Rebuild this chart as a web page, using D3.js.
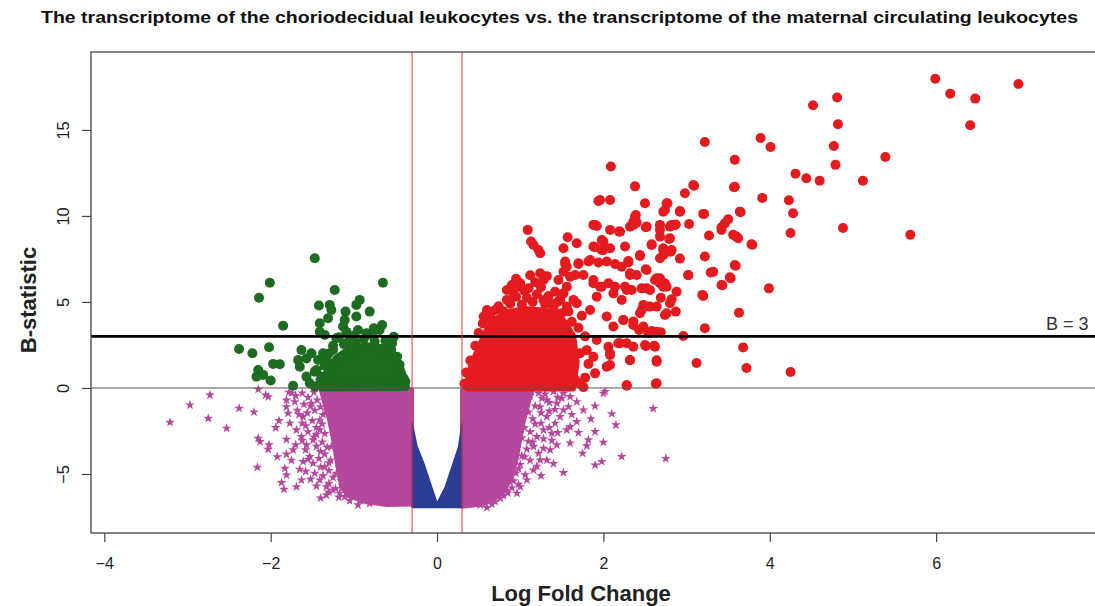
<!DOCTYPE html>
<html><head><meta charset="utf-8">
<script src="https://cdn.jsdelivr.net/npm/d3@7/dist/d3.min.js"></script>
<style>
body{margin:0;background:#fff}
svg{display:block}
text{font-family:"Liberation Sans",Arial,Helvetica,sans-serif}
</style>
</head><body>
<svg id="chart" width="1095" height="606"></svg>
<script>
// ---------- data ----------
const titleText = "The transcriptome of the choriodecidual leukocytes vs. the transcriptome of the maternal circulating leukocytes";
const xLabel = "Log Fold Change";
const yLabel = "B-statistic";
const xTicks = [-4, -2, 0, 2, 4, 6];
const yTicks = [-5, 0, 5, 10, 15];
const fcCutoffs = [-0.3, 0.3];
const bCutoff = 3;
const bCutoffLabel = "B = 3";

// significant up-regulated genes (red)
const redPoints = [
[5.99,17.97],[6.99,17.67],[6.17,17.11],[6.47,16.82],[6.41,15.27],[4.81,16.88],[4.52,16.43],[4.82,15.33],[4.77,14.07],[4.79,12.97],[5.39,13.43],[3.89,14.53],[4.01,14.01],[3.22,14.30],[3.58,13.26],[4.31,12.46],[4.44,12.19],[4.60,12.05],[5.12,12.05],[2.09,12.87],[2.38,11.72],[3.09,11.76],[2.98,11.32],[3.57,11.67],[3.91,11.05],[4.23,10.91],[4.28,10.16],[4.25,9.01],[4.88,9.30],[5.69,8.91],[3.65,10.21],[3.21,10.12],[3.50,9.81],[3.46,9.57],[3.42,9.19],[3.56,8.90],[3.62,8.70],[3.79,8.33],[3.27,8.86],[3.22,7.64],[3.29,6.71],[3.59,7.11],[3.53,6.38],[3.43,5.97],[3.99,5.79],[3.02,6.55],[3.20,5.35],[3.63,4.38],[3.22,3.47],[2.96,3.02],[3.68,2.36],[3.12,1.45],[3.72,1.16],[4.25,0.93],[2.28,0.13],[2.63,0.25],[2.32,1.61],[2.64,1.61],[2.08,1.92],[2.08,1.34],[2.51,2.44],[2.61,2.46],[2.69,3.24],[2.58,3.31],[2.92,10.29],[3.03,9.53],[2.87,9.50],[2.76,10.74],[2.72,10.25],[2.50,10.74],[2.39,10.06],[2.36,9.67],[2.52,9.38],[2.68,9.48],[2.82,9.48],[2.79,8.66],[2.58,8.35],[2.92,7.52],[2.81,7.92],[2.72,8.02],[2.68,7.54],[2.51,6.90],[2.44,7.73],[2.30,7.38],[2.26,8.22],[2.88,5.60],[2.82,5.16],[2.87,4.44],[2.69,5.25],[2.64,4.73],[2.74,4.24],[2.68,6.38],[2.62,6.28],[2.74,6.09],[2.56,5.70],[2.46,5.79],[2.34,5.70],[2.32,6.67],[2.48,4.83],[2.56,4.73],[2.46,4.53],[2.36,3.86],[2.43,3.37],[2.24,3.95],[2.18,2.60],[2.28,2.60],[2.36,9.48],[2.20,9.09],[2.08,10.93],[1.96,10.93],
[1.94,10.87],[1.88,9.48],[1.92,9.42],[2.08,9.19],[2.19,9.09],[1.57,8.76],[1.68,8.41],[1.52,8.12],[1.90,8.18],[1.98,8.60],[2.00,8.02],[2.08,8.12],[1.70,7.21],[1.84,7.44],[1.94,7.29],[2.04,7.35],[2.14,7.21],[2.22,7.05],[2.30,7.29],[1.54,7.21],[1.52,6.76],[1.66,6.57],[1.76,6.57],[1.56,5.89],[1.88,6.09],[1.98,5.89],[2.06,6.09],[2.14,5.89],[2.26,5.89],[2.32,6.57],[2.40,6.57],[2.52,6.86],[2.52,5.79],[2.64,6.38],[2.72,5.89],[2.51,9.34],[2.58,8.31],[2.44,7.67],[2.32,9.38],[2.38,9.96],[2.40,9.61],[2.68,9.19],[2.80,9.38],[2.86,9.48],[2.74,10.35],[2.77,10.74],[2.92,10.25],[3.08,11.80],[3.20,10.12],[3.32,6.76],[3.42,5.99],[3.52,6.43],[3.58,7.15],[3.60,8.80],[3.64,10.25],[3.58,11.70],[3.42,9.34],[3.78,8.35],[3.02,6.57],[3.19,5.41],[2.76,5.89],[2.68,6.09],[2.72,7.73],[2.72,8.12],[2.82,8.02],[2.80,8.70],[2.68,8.80],
[1.09,9.19],[1.13,8.51],[1.16,8.31],[1.22,8.02],[1.24,7.83],[1.54,7.35],[1.56,7.05],[1.70,7.25],[1.82,7.35],[1.90,9.48],[1.88,8.22],[2.00,8.51],[1.98,8.02],[1.24,6.67],[1.28,6.28],[1.46,6.28],[1.60,6.47],[1.00,5.89],[0.92,5.50],[0.84,5.12],[0.70,4.53],[0.64,4.24],[0.68,3.47],[1.88,6.28],[1.96,5.89],[1.92,5.31],[2.12,5.50],[2.22,5.12],[2.28,5.70],[1.84,4.53],[2.04,4.15],[2.12,3.57],[2.24,3.95],[2.36,3.66],[2.44,4.34],[2.48,3.57],[2.54,3.18],[2.64,3.27],[2.76,4.34],[2.80,4.92],[1.92,2.79],[2.06,2.40],[2.20,2.60],[2.36,2.40],[2.50,2.50],[2.62,2.40],[1.72,2.02],[1.88,1.82],[2.08,2.02],[2.04,1.24],[1.90,0.85],[1.66,0.47],[1.76,0.05],[2.32,1.63],[2.64,1.53],[2.28,0.17],[2.64,0.27],[0.56,4.15],[0.60,4.53],[1.28,5.12],[1.36,4.92],[1.48,5.12],[1.56,4.73],[1.64,5.12],[1.68,4.92],[1.52,5.50],[1.42,5.60],[0.84,5.70],[0.90,5.99],[1.00,6.09],[1.10,5.80],
[0.74,4.75],[0.80,4.45],[0.88,4.90],[0.95,5.30],[1.02,4.85],[1.08,5.25],[1.05,5.65],[1.15,5.00],[1.20,5.45],[1.18,6.15],[1.25,5.85],[1.30,4.85],[1.34,5.35],[1.40,4.60],[1.45,5.00],[1.50,4.35],[1.58,4.45],[1.62,3.85],[1.70,3.50],[1.74,4.20],[1.78,3.00],[1.80,2.20],[1.82,1.40],[1.78,0.60],[1.72,0.25],[0.95,6.35],[1.12,6.55],[1.32,6.50],[0.50,3.20],[0.46,2.45],[0.40,1.60],[0.35,0.90],[0.33,0.25],[0.55,3.75],[0.62,4.00]
];
// dense core of the red cloud (outline)
const redCore = [[0.37,0.05],[0.43,1.30],[0.52,2.30],[0.60,3.20],[0.70,3.90],[0.85,4.30],[1.05,4.50],[1.30,4.40],[1.50,3.90],[1.62,3.00],[1.66,1.50],[1.62,0.05]];

// significant down-regulated genes (green)
const greenPoints = [
[-1.47,7.54],[-2.01,6.12],[-0.65,6.12],[-2.14,5.25],[-1.23,5.70],[-1.42,4.79],[-1.29,4.83],[-1.27,4.53],[-0.93,5.12],[-0.97,4.83],[-1.10,4.44],[-0.81,4.44],[-0.97,4.15],[-1.11,3.95],[-1.13,3.57],[-1.09,3.27],[-1.31,4.05],[-1.41,3.76],[-1.41,3.27],[-1.35,3.08],[-1.85,3.62],[-0.66,3.66],[-0.76,3.47],[-0.95,3.37],[-0.85,3.18],[-0.69,3.37],[-1.21,2.89],[-0.52,2.98],[-2.38,2.27],[-2.22,2.02],[-2.02,2.37],[-1.97,1.40],[-1.89,1.38],[-2.15,1.05],[-2.17,0.66],[-2.09,0.76],[-2.00,0.43],[-1.73,0.13],[-1.65,1.24],[-1.67,1.63],[-1.57,1.72],[-1.51,2.02],[-1.63,2.21],[-1.57,0.66],[-1.53,0.27],[-1.47,0.95],[-1.43,1.63],[-1.37,2.02],[-1.39,0.66],[-1.47,0.08],[-0.44,0.85],[-0.38,0.37],[-0.48,1.82],[-0.54,2.60],[-0.60,2.40],[-1.05,2.79],[-1.25,2.21],[-1.33,1.63],[-1.45,1.05],[-1.09,2.60],
[-1.25,2.45],[-1.12,2.55],[-0.98,2.65],[-0.88,2.85],[-0.75,2.70],[-0.62,2.75],[-0.55,2.20],[-0.45,1.35],[-0.40,0.55],[-1.35,1.30],[-1.40,0.45],[-1.30,2.00],[-1.18,2.95],[-0.78,3.05],[-1.00,3.05]
];
const greenCore = [[-1.38,0.06],[-1.30,1.10],[-1.20,1.70],[-1.05,2.20],[-0.85,2.40],[-0.62,2.25],[-0.50,1.80],[-0.43,0.90],[-0.38,0.08]];

// non-significant genes with |logFC| > 0.3 (pink)
const pinkPoints = [
[-3.21,-2.00],[-2.97,-0.99],[-2.73,-0.41],[-2.75,-1.77],[-2.53,-2.34],[-2.38,-1.18],[-2.15,-0.08],[-2.06,-0.41],[-2.03,-0.51],[-2.15,-2.93],[-2.13,-3.12],[-2.02,-3.31],[-2.03,-3.57],[-1.94,-2.31],[-2.16,-4.61],[-1.81,-2.99],[-1.81,-3.85],[-1.83,-4.67],[-1.81,-5.06],[-1.87,-5.50],[-1.84,-5.89],[-1.69,-5.74],[-1.63,-5.35],[-1.61,-4.28],[-1.65,-4.73],[-1.81,-0.70],[-1.81,-1.09],[-1.79,-1.47],[-1.71,-0.80],[-1.77,-2.05],[-1.69,-2.44],[-1.61,-1.67],[-1.63,-2.83],[-1.57,-3.31],[-1.73,-3.60],[-1.53,-3.99],[-1.49,-4.38],[-1.47,-4.96],[-1.41,-5.35],[-1.33,-5.74],[-1.25,-5.93],[-1.17,-6.12],[-1.33,-6.22],[-1.11,-6.32],[-0.81,-6.71],[-0.97,-5.93],[-1.49,-3.02],[-1.41,-2.44],[-1.51,-0.89],[-1.41,-1.86],[-1.33,-1.28],[-1.27,-3.41],[-1.35,-4.58],[-1.21,-4.96],[-1.75,-0.30],[-1.68,-1.30],[-1.58,-2.20],[-1.45,-2.70],[-1.40,-3.70],[-1.28,-4.20],[-1.15,-5.40],[-1.05,-6.20],[-0.92,-6.55],
[-1.78,-0.25],[-1.70,-0.45],[-1.62,-0.30],[-1.55,-0.55],[-1.48,-0.25],[-1.44,-0.70],[-1.52,-1.05],[-1.60,-0.95],[-1.66,-1.55],[-1.56,-1.45],[-1.47,-1.30],[-1.40,-1.10],[-1.37,-1.55],[-1.50,-1.90],[-1.62,-2.05],[-1.45,-2.30],[-1.38,-2.10],[-1.55,-2.55],[-1.35,-2.65],[-1.48,-2.85],[-1.62,-3.05],[-1.38,-3.15],[-1.32,-3.45],[-1.45,-3.40],[-1.58,-3.60],[-1.35,-3.85],[-1.42,-4.10],[-1.55,-4.15],[-1.30,-4.35],[-1.40,-4.60],[-1.58,-4.85],[-1.30,-4.80],[-1.37,-5.10],[-1.25,-5.20],[-1.52,-5.30],[-1.30,-5.55],[-1.45,-5.70],[-1.22,-5.85],[-1.30,-6.05],[-1.18,-6.35],[-1.05,-6.55],[-0.95,-6.80],[-1.40,-6.40],[-1.70,-3.30],[-1.75,-4.20],[-1.92,-4.00],[-1.90,-1.90],[-2.20,-1.40],
[2.22,-3.99],[2.15,-2.15],[2.00,-3.16],[1.98,-4.28],[1.90,-4.48],[1.90,-2.54],[1.82,-3.02],[1.80,-3.37],[1.90,-1.05],[1.76,-1.28],[1.68,-0.80],[2.02,-0.21],[2.00,-0.31],[1.52,-0.31],[1.68,-1.96],[1.60,-2.25],[1.56,-2.44],[1.52,-4.92],[1.44,-3.31],[1.36,-3.60],[1.32,-4.19],[1.24,-4.19],[1.28,-3.51],[1.42,-2.05],[1.38,-2.64],[1.48,-1.67],[1.58,-1.09],[1.44,-0.89],[1.52,-1.28],[1.16,-4.77],[1.08,-5.35],[1.00,-5.74],[0.96,-6.12],[0.84,-5.93],[0.76,-6.41],[0.64,-6.51],[0.52,-6.80],[1.16,-3.41],[1.20,-2.83],[1.28,-2.44],[1.32,-1.67],[1.24,-1.09],[1.32,-0.70],[1.40,-0.20],[1.45,-0.55],[1.35,-1.35],[1.18,-2.10],[1.10,-3.10],[1.05,-4.00],[0.98,-4.70],[0.90,-5.80],[0.70,-6.60],[2.75,-4.10],[2.60,-1.20],
[1.05,-0.20],[1.12,-0.45],[1.22,-0.30],[1.30,-0.35],[1.35,-0.85],[1.26,-0.60],[1.18,-1.05],[1.10,-1.40],[1.25,-1.45],[1.42,-1.25],[1.50,-0.60],[1.60,-0.50],[1.15,-1.80],[1.25,-2.05],[1.05,-2.30],[1.35,-2.30],[1.12,-2.55],[1.45,-2.60],[1.02,-2.90],[1.28,-2.95],[1.15,-3.15],[1.38,-3.05],[1.08,-3.55],[1.22,-3.80],[1.02,-3.95],[1.12,-4.20],[1.40,-4.40],[1.00,-4.45],[1.20,-4.55],[0.95,-4.95],[1.06,-5.05],[1.25,-5.10],[0.92,-5.40],[0.98,-5.60],[0.85,-6.10],[0.80,-6.25],[0.66,-6.75],[0.60,-6.95],[1.60,-3.20],[1.70,-2.60],[1.75,-3.80],[1.62,-1.55],[1.85,-1.80],[2.10,-1.50]
];
const pinkLeftCore = [[-1.40,-0.08],[-0.30,-0.08],[-0.30,-6.78],[-0.60,-6.80],[-0.85,-6.65],[-1.05,-6.30],[-1.15,-5.80],[-1.20,-4.50],[-1.25,-3.00],[-1.30,-1.80],[-1.36,-0.80]];
const pinkRightCore = [[0.30,-0.08],[1.15,-0.08],[1.10,-0.90],[1.04,-2.00],[1.00,-3.00],[0.95,-4.30],[0.87,-5.50],[0.74,-6.30],[0.55,-6.78],[0.30,-6.90]];

// non-significant genes with |logFC| < 0.3 (blue)
const blueCore = [[-0.30,-2.05],[-0.24,-3.41],[-0.16,-4.38],[-0.08,-5.54],[0.00,-6.70],[0.10,-5.74],[0.18,-4.58],[0.26,-3.41],[0.30,-2.05],[0.30,-6.95],[-0.30,-6.95]];

// ---------- drawing ----------
const svg = d3.select("#chart");
const plot = {left: 91, right: 1095, top: 52, bottom: 533};
const x = d3.scaleLinear().domain([-4.16, 7.91]).range([plot.left, plot.right]);
const y = d3.scaleLinear().domain([-8.43, 19.53]).range([plot.bottom, plot.top]);

const col = {red: "#e31b1f", green: "#1e6b22", pink: "#b5489d", blue: "#2b3d96"};
const line = d3.line().x(d => x(d[0])).y(d => y(d[1])).curve(d3.curveLinearClosed);

svg.append("clipPath").attr("id", "clip").append("rect")
  .attr("x", plot.left).attr("y", plot.top).attr("width", plot.right - plot.left).attr("height", plot.bottom - plot.top);
const g = svg.append("g").attr("clip-path", "url(#clip)");

// pink clouds
[pinkLeftCore, pinkRightCore].forEach(p => {
  g.append("path").attr("d", line(p)).attr("fill", col.pink)
    .attr("stroke", col.pink).attr("stroke-width", 4).attr("stroke-linejoin", "round");
});
const star = d3.symbol().type(d3.symbolStar).size(30);
g.selectAll(".pk").data(pinkPoints).join("path").attr("class", "pk")
  .attr("d", star).attr("transform", d => `translate(${x(d[0])},${y(d[1])})`).attr("fill", col.pink);

// blue V
g.append("path").attr("d", line(blueCore)).attr("fill", col.blue)
  .attr("stroke", col.blue).attr("stroke-width", 1.5).attr("stroke-linejoin", "round");

// green
g.append("path").attr("d", line(greenCore)).attr("fill", col.green)
  .attr("stroke", col.green).attr("stroke-width", 9).attr("stroke-linejoin", "round");
g.selectAll(".gr").data(greenPoints).join("circle").attr("class", "gr")
  .attr("cx", d => x(d[0])).attr("cy", d => y(d[1])).attr("r", 5).attr("fill", col.green);

// red
g.append("path").attr("d", line(redCore)).attr("fill", col.red)
  .attr("stroke", col.red).attr("stroke-width", 9).attr("stroke-linejoin", "round");
g.selectAll(".rd").data(redPoints).join("circle").attr("class", "rd")
  .attr("cx", d => x(d[0])).attr("cy", d => y(d[1])).attr("r", 5).attr("fill", col.red);

// reference lines
svg.append("line").attr("x1", plot.left).attr("x2", plot.right).attr("y1", y(0)).attr("y2", y(0))
  .attr("stroke", "#555").attr("stroke-width", 1);
svg.append("line").attr("x1", plot.left).attr("x2", plot.right).attr("y1", y(bCutoff)).attr("y2", y(bCutoff))
  .attr("stroke", "#000").attr("stroke-width", 2.6);
fcCutoffs.forEach(v => {
  svg.append("line").attr("x1", x(v)).attr("x2", x(v)).attr("y1", plot.top).attr("y2", plot.bottom)
    .attr("stroke", "#e0393c").attr("stroke-width", 1);
});
svg.append("text").attr("x", 1046).attr("y", 330).attr("font-size", 18).attr("fill", "#333").text(bCutoffLabel);

// box
svg.append("rect").attr("x", plot.left).attr("y", plot.top).attr("width", plot.right - plot.left + 5)
  .attr("height", plot.bottom - plot.top).attr("fill", "none").attr("stroke", "#444").attr("stroke-width", 1.3);

// axes
const fmt = d => d < 0 ? "\u2212" + Math.abs(d) : String(d);
const xa = svg.append("g").attr("transform", `translate(0,${plot.bottom})`)
  .call(d3.axisBottom(x).tickValues(xTicks).tickSize(9).tickPadding(16).tickFormat(fmt));
xa.select(".domain").remove();
xa.selectAll("line").attr("stroke", "#444").attr("stroke-width", 1.2);
xa.selectAll("text").attr("font-size", 16).attr("fill", "#222").attr("font-family", '"Liberation Sans",Arial,sans-serif');

const ya = svg.append("g").attr("transform", `translate(${plot.left},0)`)
  .call(d3.axisLeft(y).tickValues(yTicks).tickSize(9).tickFormat(fmt));
ya.select(".domain").remove();
ya.selectAll("line").attr("stroke", "#444").attr("stroke-width", 1.2);
ya.selectAll("text").attr("font-size", 16.5).attr("fill", "#222").attr("font-family", '"Liberation Sans",Arial,sans-serif')
  .attr("x", 0).attr("y", -22).attr("dy", 0).attr("text-anchor", "middle").attr("transform", "rotate(-90)");

// titles
svg.append("text").attr("x", 559.5).attr("y", 23).attr("text-anchor", "middle")
  .attr("font-size", 17).attr("font-weight", "bold").attr("fill", "#111")
  .attr("textLength", 1037).attr("lengthAdjust", "spacingAndGlyphs").text(titleText);
svg.append("text").attr("x", 581).attr("y", 601).attr("text-anchor", "middle")
  .attr("font-size", 22).attr("font-weight", "bold").attr("fill", "#222").text(xLabel);
svg.append("text").attr("transform", "translate(36,300) rotate(-90)").attr("text-anchor", "middle")
  .attr("font-size", 22).attr("font-weight", "bold").attr("fill", "#222").text(yLabel);
</script>
</body></html>
